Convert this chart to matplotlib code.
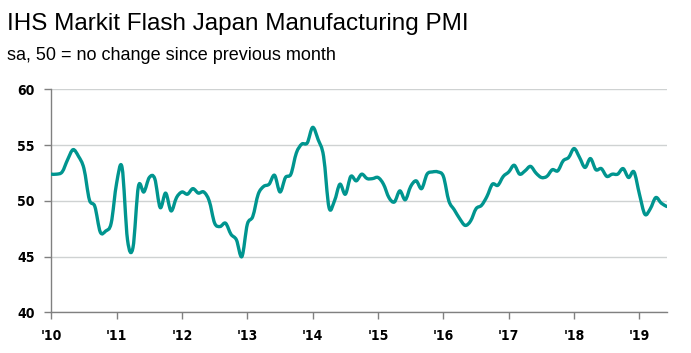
import numpy as np
import matplotlib.pyplot as plt
from matplotlib.path import Path
from matplotlib.patches import PathPatch

# Monthly PMI, Jan 2010 - Jun 2019
pmi_2010 = [52.4, 52.4, 52.6, 53.7, 54.6, 54.0, 52.9, 50.1, 49.5, 47.2, 47.3, 48.0]
pmi_2011 = [51.6, 53.0, 46.5, 45.8, 51.3, 50.8, 52.1, 52.0, 49.4, 50.7, 49.1, 50.3]
pmi_2012 = [50.8, 50.6, 51.1, 50.7, 50.8, 50.0, 48.0, 47.7, 48.0, 47.0, 46.5, 45.0]
pmi_2013 = [47.9, 48.6, 50.6, 51.3, 51.5, 52.3, 50.8, 52.1, 52.4, 54.3, 55.1, 55.2]
pmi_2014 = [56.6, 55.5, 54.0, 49.4, 50.0, 51.5, 50.6, 52.2, 51.8, 52.4, 52.0, 52.0]
pmi_2015 = [52.1, 51.5, 50.3, 49.9, 50.9, 50.1, 51.3, 51.8, 51.1, 52.4, 52.6, 52.6]
pmi_2016 = [52.2, 50.0, 49.2, 48.4, 47.8, 48.2, 49.3, 49.6, 50.4, 51.5, 51.4, 52.2]
pmi_2017 = [52.6, 53.2, 52.4, 52.7, 53.1, 52.5, 52.1, 52.2, 52.8, 52.7, 53.6, 53.9]
pmi_2018 = [54.7, 53.9, 53.0, 53.8, 52.8, 52.9, 52.2, 52.4, 52.4, 52.9, 52.1, 52.6]
pmi_2019 = [50.6, 48.8, 49.3, 50.3, 49.8, 49.5]

pmi = pmi_2010 + pmi_2011 + pmi_2012 + pmi_2013 + pmi_2014 + pmi_2015 + pmi_2016 + pmi_2017 + pmi_2018 + pmi_2019
year_labels = ["'10", "'11", "'12", "'13", "'14", "'15", "'16", "'17", "'18", "'19"]
y_ticks = [40, 45, 50, 55, 60]

months = np.arange(len(pmi))
vals = np.array(pmi)

fig = plt.figure(figsize=(6.91, 3.53), dpi=100)
ax = fig.add_axes([0.0742, 0.1153, 0.8906, 0.6312])

# smooth "spline" look: catmull-rom segments as bezier curves through the points
pts = np.column_stack([months, vals])
ext = np.vstack([pts[0], pts, pts[-1]])
verts = [tuple(pts[0])]
codes = [Path.MOVETO]
for i in range(1, len(ext) - 2):
    p0, p1, p2, p3 = ext[i - 1], ext[i], ext[i + 1], ext[i + 2]
    c1 = p1 + (p2 - p0) / 6
    c2 = p2 - (p3 - p1) / 6
    verts += [tuple(c1), tuple(c2), tuple(p2)]
    codes += [Path.CURVE4] * 3
ax.add_patch(PathPatch(Path(verts, codes), fill=False, edgecolor='#00958f',
                       lw=2.4, capstyle='round', joinstyle='round', zorder=3))

ax.set_xlim(0, len(pmi) - 1)
ax.set_ylim(40, 60)
ax.set_yticks(y_ticks)
ax.set_xticks(np.arange(0, len(pmi), 12))
ax.set_xticklabels(year_labels)

for lab in ax.get_xticklabels() + ax.get_yticklabels():
    lab.set_fontfamily(['DejaVu Sans'])
    lab.set_fontstretch('condensed')
    lab.set_fontweight('bold')
    lab.set_fontsize(10)

ax.grid(axis='y', color='#cfd2d2', lw=1)
ax.set_axisbelow(True)
for s in ['top', 'right']:
    ax.spines[s].set_visible(False)
for s in ['left', 'bottom']:
    ax.spines[s].set_color('#808080')
    ax.spines[s].set_linewidth(1)
ax.tick_params(axis='both', colors='#808080', labelcolor='black', length=5, width=1)
ax.tick_params(axis='y', pad=7)
ax.tick_params(axis='x', pad=7)

fig.text(0.01, 0.915, 'IHS Markit Flash Japan Manufacturing PMI', fontsize=17.5,
         family=['Liberation Sans', 'DejaVu Sans'])
fig.text(0.01, 0.83, 'sa, 50 = no change since previous month', fontsize=13,
         family=['Liberation Sans', 'DejaVu Sans'])

fig.savefig('out.png', dpi=100)
